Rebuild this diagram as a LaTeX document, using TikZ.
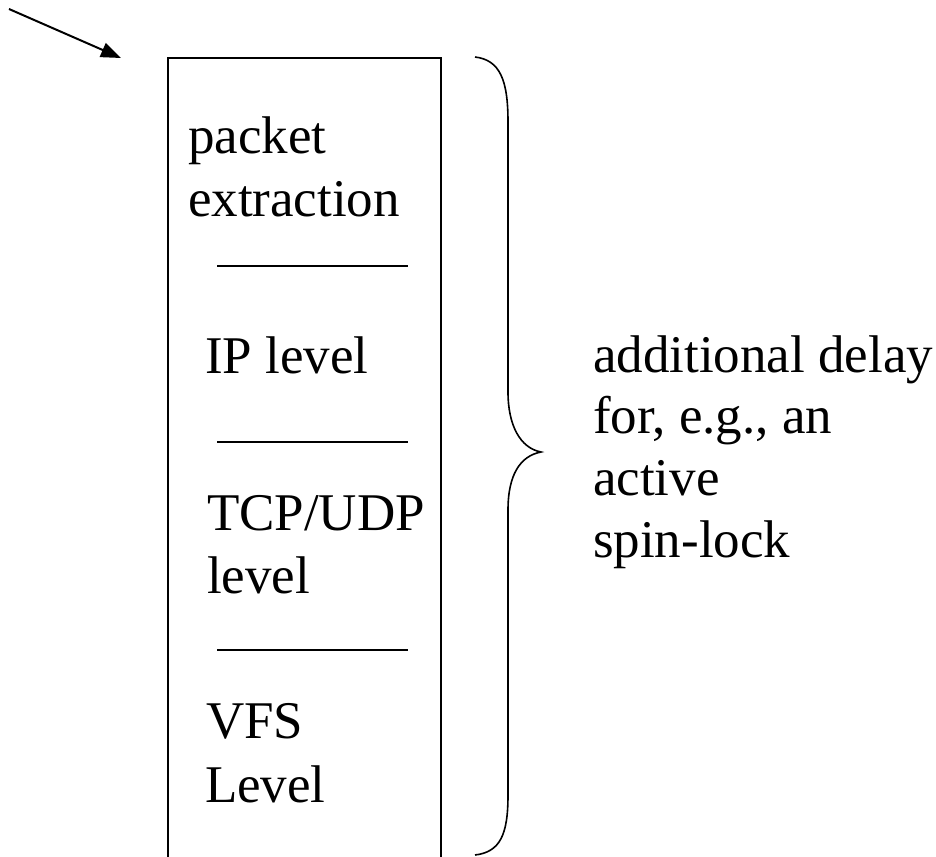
\documentclass[tikz,border=0pt]{standalone}
\usepackage{fontspec}
\setmainfont{Liberation Serif}
\usetikzlibrary{arrows.meta}
\begin{document}
\begin{tikzpicture}[x=1pt,y=-1pt,
  line/.style={line width=2pt},
  lbl/.style={anchor=base west,inner sep=0pt,outer sep=0pt,
    font=\fontsize{53}{62}\selectfont},
  sep/.style={line width=2pt},
  brace/.style={line width=1.6pt}]
\useasboundingbox (0,0) rectangle (936,856);

% stack box (open at the bottom)
\draw[line] (168,858) -- (168,58) -- (441,58) -- (441,858);

% layer labels
\node[lbl] (pk)  at (188,153) {packet};
\node[lbl] (ex)  at (188,216) {extraction};
\node[lbl] (ip)  at (205,373) {IP level};
\node[lbl] (tcp) at (207,530) {TCP/UDP};
\node[lbl] (tl)  at (207,593) {level};
\node[lbl] (vfs) at (206,738) {VFS};
\node[lbl] (vl)  at (205,802) {Level};

% separators between layers
\coordinate (s1a) at (217,266); \coordinate (s1b) at (408,266);
\coordinate (s2a) at (217,442); \coordinate (s2b) at (408,442);
\coordinate (s3a) at (217,650); \coordinate (s3b) at (408,650);
\draw[sep] (s1a) -- (s1b);
\draw[sep] (s2a) -- (s2b);
\draw[sep] (s3a) -- (s3b);

% incoming arrow
\coordinate (src) at (9,9);
\coordinate (dst) at (121,58);
\draw[line,-{Triangle[length=20pt,width=15pt]}] (src) -- (dst);

% curly brace
\draw[brace] (475,57) .. controls (500,60) and (508,80) .. (508,122)
  -- (508,392) .. controls (508,425) and (520,448) .. (541,452)
  .. controls (520,456) and (508,475) .. (508,510)
  -- (508,795) .. controls (508,835) and (500,852) .. (475,855);

% annotation
\node[lbl] (a1) at (593,372) {additional delay};
\node[lbl] (a2) at (593,433) {for, e.g., an};
\node[lbl] (a3) at (593,495) {active};
\node[lbl] (a4) at (593,557) {spin-lock};
\end{tikzpicture}
\end{document}
